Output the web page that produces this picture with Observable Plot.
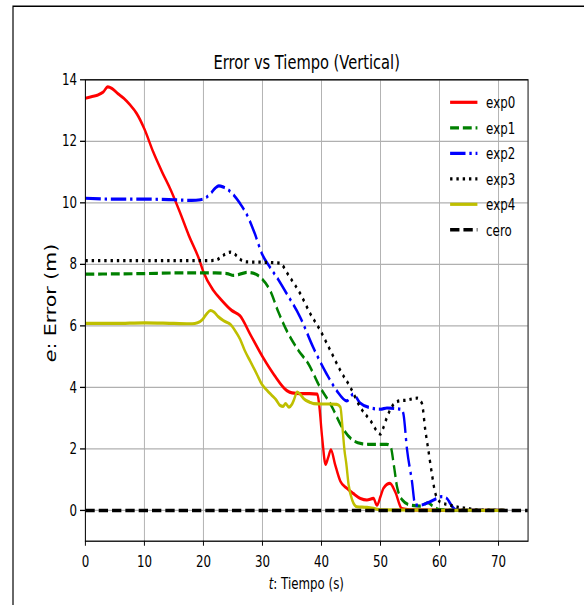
<!DOCTYPE html>
<html>
<head>
<meta charset="utf-8">
<script src="https://cdn.jsdelivr.net/npm/d3@7"></script>
<script src="https://cdn.jsdelivr.net/npm/@observablehq/plot@0.6"></script>
<style>
  html, body { margin: 0; padding: 0; background: #ffffff; }
  #chart svg { display: block; }
</style>
</head>
<body>
<div id="chart"></div>
<script>
// ---------------- data ----------------
const titleText = "Error vs Tiempo (Vertical)";
const xTicks = [0, 10, 20, 30, 40, 50, 60, 70];
const yTicks = [0, 2, 4, 6, 8, 10, 12, 14];
const seriesNames = ["exp0", "exp1", "exp2", "exp3", "exp4", "cero"];

const exp0T = [0,1,2,3,3.8,4.5,5.5,6.5,7.5,8.7,10,11.5,13,14.5,16,17.5,19.3,20,21.7,23,24.8,26.2,28,30.1,32,34.1,35,36.4,38,39.3,39.6,40.1,40.7,41.1,41.6,42.3,43.2,44.3,45.4,46.6,47.7,48.8,49.4,50,50.5,51.6,52.5,53.6,55,60,65,71];
const exp0E = [13.4,13.45,13.5,13.6,13.77,13.72,13.55,13.4,13.2,12.9,12.4,11.65,11.0,10.4,9.7,8.95,8.15,7.75,7.15,6.85,6.5,6.33,5.7,4.97,4.4,3.9,3.82,3.8,3.8,3.78,3.45,2.4,1.5,1.7,1.97,1.5,0.95,0.72,0.55,0.39,0.34,0.39,0.17,0.45,0.72,0.88,0.6,0.06,0.02,0.01,0,0];

const exp1T = [0,5,10,15,18,22,24,25.1,26.5,27.4,28.9,29.9,31.3,32.7,34.1,36.1,37.8,39.5,41.8,43.5,45.2,46.8,48,51.1,51.7,52.3,52.8,53.7,55.1,56.8,58,59,60,65,71];
const exp1E = [7.68,7.69,7.7,7.72,7.72,7.72,7.7,7.64,7.7,7.74,7.68,7.53,7.15,6.45,5.85,5.2,4.76,4.1,3.36,2.7,2.3,2.17,2.15,2.15,2.08,1.42,0.77,0.34,0.17,0.14,0.25,0.12,0.03,0,0];

const exp2T = [0,5,10,15,18,19.5,20.5,21.2,22,22.6,23.3,24,25,26.2,27.4,28.7,29.9,31.3,32.7,34.1,36.4,38.6,40.9,42.6,44.3,45.4,46.5,48.2,50,51.1,53,53.6,53.9,54.5,55.3,55.9,56.7,58,59,60.4,61.3,61.8,62.4,63,71];
const exp2E = [10.15,10.12,10.12,10.1,10.08,10.1,10.18,10.3,10.48,10.55,10.52,10.45,10.28,9.98,9.6,9.0,8.35,7.9,7.5,7.05,6.28,5.3,4.43,3.89,3.56,3.78,3.5,3.34,3.29,3.33,3.3,3.28,3.12,1.97,0.99,0.17,0.17,0.25,0.34,0.45,0.38,0.23,0.07,0.01,0];

const exp3T = [0,5,10,15,20,22,23.4,24.6,25.5,26.1,27.3,30,32.9,34.6,36.4,38.1,39.8,41.5,43.2,44.9,46.6,48.3,50,50.5,51.1,52.3,53.4,54.2,56.2,57,57.6,58.1,58.7,59.3,60.1,61.8,63.2,64.9,66,71];
const exp3E = [8.12,8.12,8.12,8.12,8.12,8.13,8.3,8.4,8.3,8.18,8.08,8.07,8.04,7.59,7.05,6.4,5.85,5.2,4.55,4.0,3.35,2.92,2.48,2.7,3.03,3.47,3.57,3.58,3.65,3.49,2.6,1.97,1.2,0.55,0.28,0.17,0.1,0.06,0.02,0];

const exp4T = [0,5,10,15,18.1,19,19.8,20.5,21.2,21.8,22.5,23.4,24.4,24.8,25.5,26.2,27,27.9,29,29.9,30.8,31.6,32.3,33,33.5,33.9,34.5,35,35.3,35.9,36.5,37,38,38.7,40,41.5,42.6,43.2,43.6,43.9,44.2,44.6,45.2,46,47.7,48.8,50,71];
const exp4E = [6.08,6.08,6.1,6.08,6.07,6.1,6.2,6.38,6.5,6.45,6.3,6.17,6.07,6.0,5.8,5.57,5.2,4.86,4.45,4.1,3.9,3.74,3.6,3.41,3.38,3.47,3.36,3.45,3.58,3.85,3.75,3.63,3.52,3.47,3.46,3.46,3.45,3.36,2.6,1.95,1.53,0.83,0.34,0.12,0.1,0.07,0.02,0];

const ceroT = [0, 75];
const ceroE = [0, 0];

// ---------------- styles ----------------
const seriesStyle = {
  exp0: {stroke: "#ff0000", dash: null,                 width: 3.2},
  exp1: {stroke: "#008000", dash: "12,5.2",             width: 3.2},
  exp2: {stroke: "#0000ff", dash: "20.8,5.2,3.2,5.2",   width: 3.2},
  exp3: {stroke: "#000000", dash: "3.2,5.3",            width: 3.2},
  exp4: {stroke: "#bfbf00", dash: null,                 width: 3.2},
  cero: {stroke: "#000000", dash: "12.6,5.4",           width: 3.5}
};

// horizontal squeeze of the reference picture
const S = 0.74;
const W = Math.round(584 / S);
const H = 605;
const ML = 85 / S, MR = (584 - 527.7) / S, MT = 79.3, MB = H - 540.7;

const seriesData = {
  exp0: [exp0T, exp0E], exp1: [exp1T, exp1E], exp2: [exp2T, exp2E],
  exp3: [exp3T, exp3E], exp4: [exp4T, exp4E], cero: [ceroT, ceroE]
};
const rows = seriesNames.flatMap(n => seriesData[n][0].map((t, i) => ({name: n, t, e: seriesData[n][1][i]})));

const gridStyle = {stroke: "#b0b0b0", strokeOpacity: 1, strokeWidth: 1.3};

const chart = Plot.plot({
  width: W,
  height: H,
  marginLeft: ML, marginRight: MR, marginTop: MT, marginBottom: MB,
  style: {fontFamily: "'DejaVu Sans', sans-serif", fontSize: "16px", color: "#000", background: "#fff"},
  x: {domain: [0, 75]},
  y: {domain: [-1, 14]},
  marks: [
    Plot.gridX(xTicks, gridStyle),
    Plot.gridY(yTicks, gridStyle),
    ...seriesNames.map(n => Plot.line(rows.filter(r => r.name === n), {
      x: "t", y: "e",
      stroke: seriesStyle[n].stroke,
      strokeWidth: seriesStyle[n].width,
      strokeDasharray: seriesStyle[n].dash,
      strokeLinecap: "butt",
      strokeLinejoin: "round",
      curve: "monotone-x",
      clip: true
    })),
    Plot.frame({stroke: "#000", strokeWidth: 1.3}),
    Plot.axisX({ticks: xTicks, tickSize: 5, tickPadding: 9.3, label: null, strokeWidth: 1.3}),
    Plot.axisY({ticks: yTicks, tickSize: 5 / S, tickPadding: 4.5, label: null, strokeWidth: 1.3}),
    Plot.text([titleText], {frameAnchor: "top", lineAnchor: "bottom", dy: -11.3, fontSize: 19.8})
  ]
});

const svg = d3.select(chart);

// axis labels with italic math variable
const xl = svg.append("text")
  .attr("x", (ML + W - MR) / 2).attr("y", 589)
  .attr("text-anchor", "middle").attr("fill", "#000");
xl.append("tspan").attr("font-style", "italic").text("t");
xl.append("tspan").text(": Tiempo (s)");

const yl = svg.append("text")
  .attr("transform", `translate(${55.8 / S},303) rotate(-90)`)
  .attr("text-anchor", "middle").attr("fill", "#000")
  .attr("font-size", 20.5);
yl.append("tspan").attr("font-style", "italic").text("e");
yl.append("tspan").text(": Error (m)");

// legend (no frame)
const leg = svg.append("g");
const items = leg.selectAll("g").data(seriesNames).join("g")
  .attr("transform", (d, i) => `translate(0,${102.3 + i * 25.5})`);
items.append("line")
  .attr("x1", 450 / S).attr("x2", 477.3 / S).attr("y1", 0).attr("y2", 0)
  .attr("stroke", d => seriesStyle[d].stroke)
  .attr("stroke-width", d => seriesStyle[d].width)
  .attr("stroke-dasharray", d => seriesStyle[d].dash);
items.append("text")
  .attr("x", 486 / S).attr("dy", "0.36em").attr("fill", "#000")
  .attr("text-anchor", "start")
  .text(d => d);

// figure border (left and top edges)
svg.append("path")
  .attr("d", `M${13 / S},${H} V6.3 H${W}`)
  .attr("fill", "none").attr("stroke", "#000").attr("stroke-width", 1.6);

chart.setAttribute("preserveAspectRatio", "none");
chart.setAttribute("width", 584);
chart.setAttribute("height", 605);
chart.style.width = "584px";
chart.style.height = "605px";
chart.style.maxWidth = "none";

document.getElementById("chart").appendChild(chart);
</script>
</body>
</html>
